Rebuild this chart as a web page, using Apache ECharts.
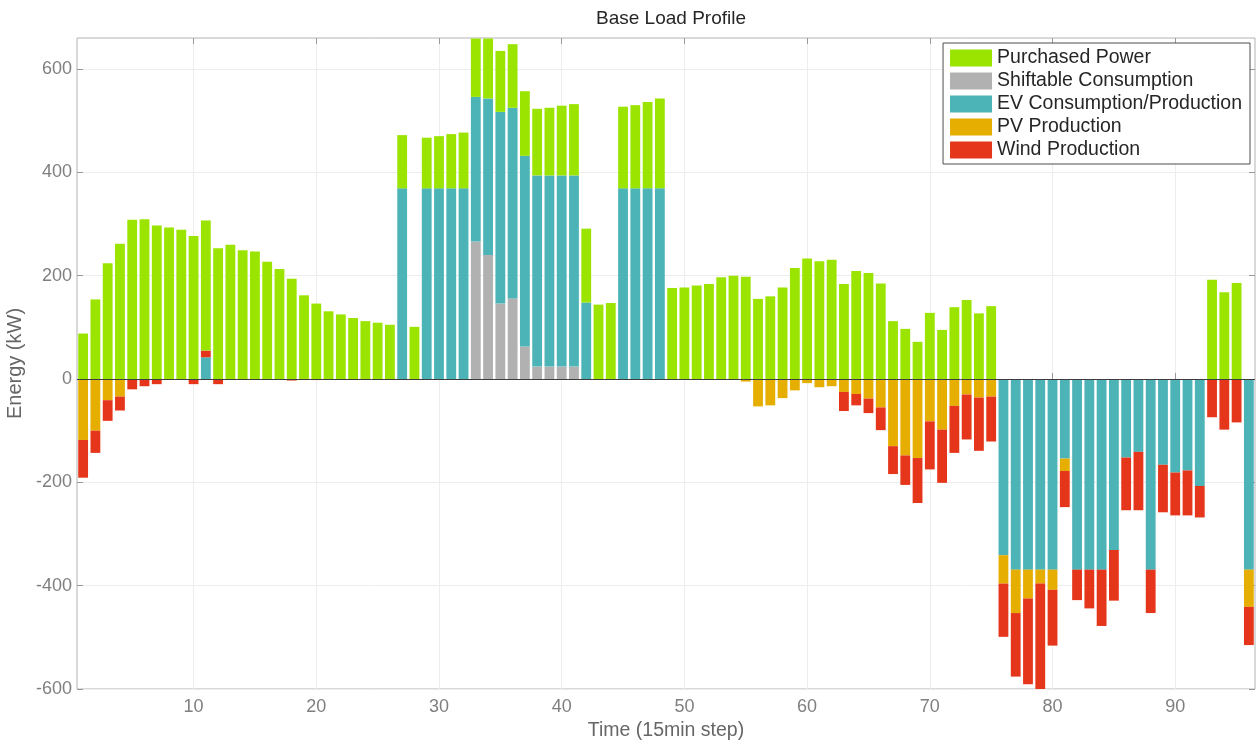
<!DOCTYPE html>
<html>
<head>
<meta charset="utf-8">
<script src="https://cdn.jsdelivr.net/npm/echarts@6/dist/echarts.min.js"></script>
<style>
html,body{margin:0;padding:0;background:#fff;}
#chart{width:1258px;height:740px;}
</style>
</head>
<body>
<div id="chart"></div>
<script>
const steps = Array.from({length: 96}, (_, i) => String(i + 1));
const xTickValues = [10, 20, 30, 40, 50, 60, 70, 80, 90];
const yTickValues = [-600, -400, -200, 0, 200, 400, 600];

const purchased = [
  88,154,224,262,308,309,297,293,289,277,
  252,253,260,249,247,227,213,194,162,146,
  131,125,118,112,109,105,103,101,98,101,
  105,108,113,116,118,123,125,129,131,135,
  138,143,144,147,158,161,167,174,176,177,
  181,184,197,200,198,155,160,177,215,233,
  228,231,184,209,205,185,112,97,72,128,
  95,139,153,127,141,0,0,0,0,0,
  0,0,0,0,0,0,0,0,0,0,
  0,0,192,168,186,0
];
const shiftable = [
  0,0,0,0,0,0,0,0,0,0,
  0,0,0,0,0,0,0,0,0,0,
  0,0,0,0,0,0,0,0,0,0,
  0,0,266,240,146,156,63,24,24,24,
  24,0,0,0,0,0,0,0,0,0,
  0,0,0,0,0,0,0,0,0,0,
  0,0,0,0,0,0,0,0,0,0,
  0,0,0,0,0,0,0,0,0,0,
  0,0,0,0,0,0,0,0,0,0,
  0,0,0,0,0,0
];
const ev = [
  0,0,0,0,0,0,0,0,0,0,
  42,0,0,0,0,0,0,0,0,0,
  0,0,0,0,0,0,369,0,369,369,
  369,369,280,303,371,369,369,370,370,370,
  370,148,0,0,369,369,369,369,0,0,
  0,0,0,0,0,0,0,0,0,0,
  0,0,0,0,0,0,0,0,0,0,
  0,0,0,0,0,-341,-369,-369,-369,-369,
  -154,-369,-369,-369,-331,-152,-141,-369,-166,-181,
  -177,-207,0,0,0,-369
];
const pv = [
  -118,-100,-41,-34,0,0,0,0,0,0,
  0,0,0,0,0,0,0,0,0,0,
  0,0,0,0,0,0,0,0,0,0,
  0,0,0,0,0,0,0,0,0,0,
  0,0,0,0,0,0,0,0,0,0,
  0,0,0,0,-5,-53,-51,-37,-22,-8,
  -16,-14,-25,-29,-38,-55,-130,-148,-153,-82,
  -98,-52,-30,-36,-34,-55,-84,-56,-27,-39,
  -24,0,0,0,0,0,0,0,0,0,
  0,0,0,0,0,-72
];
const wind = [
  -73,-43,-40,-27,-20,-14,-10,-1,0,-10,
  13,-10,-1,0,0,0,0,-3,-2,-2,
  0,0,0,0,0,0,0,0,0,0,
  0,0,0,0,0,0,0,0,0,0,
  0,0,0,0,0,0,0,0,0,0,
  0,0,0,0,0,0,0,0,0,0,
  0,0,-37,-22,-28,-44,-54,-57,-87,-93,
  -103,-91,-87,-103,-87,-103,-123,-166,-205,-108,
  -70,-59,-75,-109,-98,-102,-113,-84,-92,-83,
  -87,-61,-74,-98,-84,-74
];

const FONT = 'Liberation Sans, Arial, sans-serif';
const C = {
  purchased: '#9ae400',
  shiftable: '#b1b1b1',
  ev: '#4cb3b6',
  pv: '#e6ae00',
  wind: '#e5361b'
};

const chart = echarts.init(document.getElementById('chart'), null, {renderer: 'canvas'});

function barSeries(name, data, color, extra) {
  return Object.assign({
    name: name,
    type: 'bar',
    stack: 'all',
    xAxisIndex: 0,
    yAxisIndex: 0,
    data: data,
    barCategoryGap: '20%',
    itemStyle: {color: color},
    emphasis: {disabled: true},
    animation: false
  }, extra || {});
}

const option = {
  animation: false,
  backgroundColor: '#ffffff',
  title: {
    text: 'Base Load Profile',
    left: 666,
    top: 4,
    textAlign: 'center',
    textStyle: {fontFamily: FONT, fontSize: 19, fontWeight: 'normal', color: '#262626'}
  },
  legend: {
    data: ['Purchased Power', 'Shiftable Consumption', 'EV Consumption/Production', 'PV Production', 'Wind Production'],
    orient: 'vertical',
    right: 8,
    top: 43,
    itemWidth: 42,
    itemHeight: 17,
    itemGap: 3,
    icon: 'rect',
    padding: [5, 8, 4, 7],
    borderColor: '#4d4d4d',
    borderWidth: 1,
    backgroundColor: '#ffffff',
    textStyle: {fontFamily: FONT, fontSize: 19.5, color: '#262626'},
    selectedMode: false
  },
  grid: {
    left: 77, right: 3, top: 38, bottom: 51,
    show: true,
    borderColor: '#b3b3b3',
    borderWidth: 1,
    containLabel: false,
    outerBoundsMode: 'none'
  },
  xAxis: [
    {
      type: 'category',
      data: steps,
      show: false,
      boundaryGap: true
    },
    {
      type: 'value',
      position: 'bottom',
      min: 0.5,
      max: 96.5,
      name: 'Time (15min step)',
      nameLocation: 'middle',
      nameGap: 22,
      nameTextStyle: {fontFamily: FONT, fontSize: 19.5, color: '#666666'},
      axisLine: {show: false},
      axisTick: {show: true, inside: true, length: 6, customValues: xTickValues, lineStyle: {color: '#999999'}},
      axisLabel: {show: true, customValues: xTickValues, margin: 9, fontFamily: FONT, fontSize: 18, color: '#7f7f7f'},
      splitLine: {show: true, lineStyle: {color: '#ededed', width: 1}}
    },
    {
      type: 'value',
      position: 'top',
      min: 0.5,
      max: 96.5,
      axisLine: {show: false},
      axisTick: {show: true, inside: true, length: 6, customValues: xTickValues, lineStyle: {color: '#999999'}},
      axisLabel: {show: false, customValues: xTickValues},
      splitLine: {show: false}
    }
  ],
  yAxis: [
    {
      type: 'value',
      min: -600,
      max: 660,
      interval: 200,
      position: 'left',
      name: 'Energy (kW)',
      nameLocation: 'middle',
      nameGap: 40,
      nameTextStyle: {fontFamily: FONT, fontSize: 20, color: '#666666'},
      axisLine: {show: false},
      axisTick: {show: true, inside: true, length: 6, customValues: yTickValues, lineStyle: {color: '#999999'}},
      axisLabel: {show: true, customValues: yTickValues, margin: 5, fontFamily: FONT, fontSize: 18, color: '#7f7f7f'},
      splitLine: {show: true, lineStyle: {color: '#ededed', width: 1}}
    },
    {
      type: 'value',
      min: -600,
      max: 660,
      interval: 200,
      position: 'right',
      axisLine: {show: false},
      axisTick: {show: true, inside: true, length: 6, customValues: yTickValues, lineStyle: {color: '#999999'}},
      axisLabel: {show: false, customValues: yTickValues},
      splitLine: {show: false}
    }
  ],
  series: [
    barSeries('Shiftable Consumption', shiftable, C.shiftable),
    barSeries('EV Consumption/Production', ev, C.ev),
    barSeries('PV Production', pv, C.pv),
    barSeries('Wind Production', wind, C.wind),
    barSeries('Purchased Power', purchased, C.purchased, {
      markLine: {
        silent: true,
        symbol: 'none',
        label: {show: false},
        lineStyle: {color: '#3d3d3d', width: 1, type: 'solid'},
        emphasis: {disabled: true},
        data: [{yAxis: 0}],
        animation: false
      }
    })
  ]
};

chart.setOption(option);
</script>
</body>
</html>
